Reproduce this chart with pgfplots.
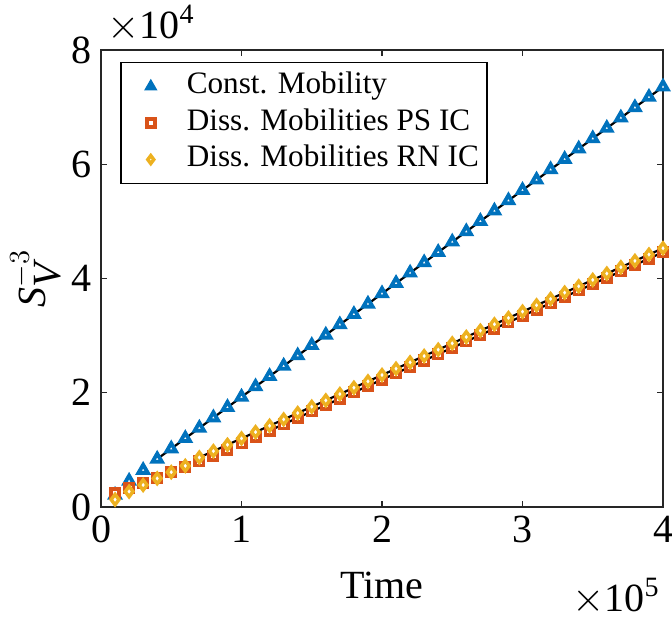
\documentclass[border=0pt]{standalone}
\usepackage{pgfplots}
\pgfplotsset{compat=1.18}
\usepackage{fontspec}
\setmainfont{Liberation Serif}

\definecolor{mblue}{rgb}{0,0.447,0.741}
\definecolor{morange}{rgb}{0.85,0.325,0.098}
\definecolor{myellow}{rgb}{0.929,0.694,0.125}
\definecolor{axgray}{rgb}{0.15,0.15,0.15}

% time vs S_V^{-3}
\pgfplotstableread{
t      const   ps     rn
10000  2100    2450   1300
20000  4550    3300   2700
30000  6450    4200   3850
40000  8400    5000   5000
50000  10210   6100   6100
60000  12020   7000   7200
70000  13830   8000   8670
80000  15640   8920   9780
90000  17450   10035  10890
100000 19260   11150  12000
110000 21070   12265  13110
120000 22880   13380  14220
130000 24690   14495  15330
140000 26500   15610  16440
150000 28310   16725  17550
160000 30120   17840  18660
170000 31930   18955  19770
180000 33740   20070  20880
190000 35550   21185  21990
200000 37360   22300  23100
210000 39170   23415  24210
220000 40980   24530  25320
230000 42790   25645  26430
240000 44600   26760  27540
250000 46410   27875  28650
260000 48220   28990  29760
270000 50030   30105  30870
280000 51840   31220  31980
290000 53650   32335  33090
300000 55460   33450  34200
310000 57270   34565  35310
320000 59080   35680  36420
330000 60890   36795  37530
340000 62700   37910  38640
350000 64510   39025  39750
360000 66320   40140  40860
370000 68130   41255  41970
380000 69940   42370  43080
390000 71750   43485  44190
400000 73560   44600  45300
}\datatab

\begin{document}
\begin{tikzpicture}
\begin{axis}[
  name=ax,
  scale only axis, width=281pt, height=228.5pt,
  xmin=0, xmax=400000, ymin=0, ymax=80000,
  xtick={0,100000,200000,300000,400000}, xticklabels={0,1,2,3,4},
  ytick={0,20000,40000,60000,80000}, yticklabels={0,2,4,6,8},
  scaled ticks=false,
  tick align=inside, tick pos=both, major tick length=3pt,
  axis line style={axgray, line width=0.7pt},
  every tick/.style={axgray, line width=0.7pt},
  tick label style={font=\fontsize{20}{24}\selectfont, text=black},
  xticklabel style={yshift=-1pt},
  yticklabel style={xshift=-1pt},
  label style={font=\fontsize{20}{24}\selectfont},
  xlabel={Time}, ylabel={$\textit{S}_{\textit{V}}^{-3}$},
  xlabel style={at={(axis description cs:0.5,0)}, anchor=center, yshift=-39pt},
  ylabel style={at={(axis description cs:-0.116,0.5)}, anchor=center},
  legend style={at={(rel axis cs:0.034,0.974)}, anchor=north west,
    draw=black, line width=0.7pt, font=\fontsize{15.6}{18}\selectfont,
    nodes={inner sep=0pt, text height=11pt, text depth=4pt},
    row sep=3.25pt, column sep=12pt, inner xsep=4pt, inner ysep=4.5pt,
    legend cell align=left},
  legend image code/.code={%
    \path[draw=none, fill=none] (-11pt,0pt) -- (6pt,0pt);
    \draw[#1, mark size=2pt, line width=0.9pt] plot coordinates {(0pt,0pt)};},
  clip=false,
]
\addplot[only marks, mark=triangle*, mark size=2.7pt, mblue,
  mark options={line width=1.9pt, fill=white}] table[x=t, y=const] {\datatab};
\addlegendentry{Const. Mobility}
\addplot[only marks, mark=square*, mark size=2.1pt, morange,
  mark options={line width=1.8pt, fill=white}] table[x=t, y=ps] {\datatab};
\addlegendentry{Diss. Mobilities PS IC}
\addplot[only marks, mark=diamond*, mark size=2.6pt, myellow,
  mark options={line width=1.7pt, fill=white}] table[x=t, y=rn] {\datatab};
\addlegendentry{Diss. Mobilities RN IC}
% linear fits over the late-time range
\addplot[black, line width=1.1pt, forget plot] coordinates {(40000,8400) (400000,73560)};
\addplot[black, line width=1.1pt, forget plot] coordinates {(120000,13380) (400000,44600)};
\addplot[black, line width=1.1pt, forget plot] coordinates {(70000,8670) (400000,45300)};
\node[anchor=south west, inner sep=0pt, font=\fontsize{20}{24}\selectfont]
  at (rel axis cs:0,1) [yshift=4pt, xshift=3pt] {$\times$10\textsuperscript{4}};
\node[anchor=north east, inner sep=0pt, font=\fontsize{20}{24}\selectfont]
  at (rel axis cs:1,0) [yshift=-35.5pt, xshift=-1.5pt] {$\times$10\textsuperscript{5}};
\end{axis}
\pgfresetboundingbox
\path[use as bounding box] ([xshift=-50.5pt,yshift=-60.5pt]ax.south west)
  rectangle ([xshift=4.5pt,yshift=25pt]ax.north east);
\end{tikzpicture}
\end{document}
